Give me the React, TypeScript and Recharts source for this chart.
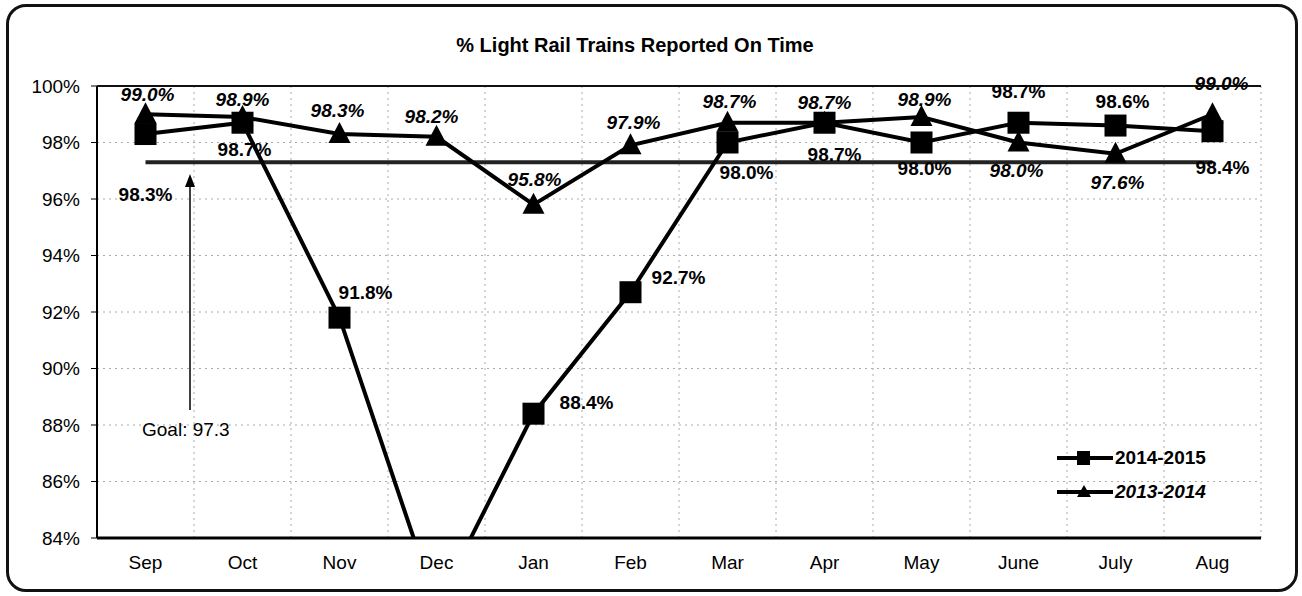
import React from 'react';
import { LineChart, Line, XAxis, YAxis, CartesianGrid, ReferenceLine, LabelList, Legend } from 'recharts';

const months = ['Sep', 'Oct', 'Nov', 'Dec', 'Jan', 'Feb', 'Mar', 'Apr', 'May', 'June', 'July', 'Aug'];
const fy1415 = [98.3, 98.7, 91.8, 81.6, 88.4, 92.7, 98.0, 98.7, 98.0, 98.7, 98.6, 98.4];
const fy1314 = [99.0, 98.9, 98.3, 98.2, 95.8, 97.9, 98.7, 98.7, 98.9, 98.0, 97.6, 99.0];
const goalValue = 97.3;
const yTicks = [84, 86, 88, 90, 92, 94, 96, 98, 100];

const data = months.map((m, i) => ({ month: m, fy1415: fy1415[i], fy1314: fy1314[i], goal: goalValue }));

// where each data label sits relative to its point (dx, dy); null = no label
const labelOffset1415: ([number, number] | null)[] = [
  [0, 60], [2, 27], [26, -25], null, [53, -11], [48, -15],
  [19, 30], [10, 32], [3, 26], [0, -31], [7, -24], [10, 36],
];
const labelOffset1314: ([number, number] | null)[] = [
  [2, -20], [0, -18], [-2, -24], [-5, -20], [1, -25], [3, -23],
  [2, -21], [0, -20], [3, -18], [-2, 28], [2, 29], [9, -31],
];

const FONT = '"Liberation Sans", Arial, sans-serif';

const SquareDot = (props: any) => {
  const { cx, cy, index, value } = props;
  if (cx == null || cy == null || value < 84) return <g key={`sq-${index}`} />;
  return <rect key={`sq-${index}`} x={cx - 11} y={cy - 11} width={22} height={22} fill="#000" />;
};

const TriangleDot = (props: any) => {
  const { cx, cy, index } = props;
  if (cx == null || cy == null) return <g key={`tr-${index}`} />;
  return (
    <polygon
      key={`tr-${index}`}
      points={`${cx},${cy - 12} ${cx - 11},${cy + 9} ${cx + 11},${cy + 9}`}
      fill="#000"
    />
  );
};

const makeLabel = (offsets: ([number, number] | null)[], italic: boolean) => (props: any) => {
  const { x, y, value, index } = props;
  const off = offsets[index];
  if (!off || x == null || y == null) return null;
  return (
    <text
      key={`lb-${italic ? 'a' : 'b'}-${index}`}
      x={x + off[0]}
      y={y + off[1]}
      textAnchor="middle"
      dominantBaseline="central"
      fontFamily={FONT}
      fontSize={19}
      fontWeight="bold"
      fontStyle={italic ? 'italic' : 'normal'}
      fill="#000"
    >
      {`${Number(value).toFixed(1)}%`}
    </text>
  );
};

const renderLegend = () => (
  <div style={{ fontFamily: FONT, fontSize: 19, fontWeight: 'bold', color: '#000' }}>
    <div style={{ display: 'flex', alignItems: 'center', height: 34 }}>
      <svg width={58} height={24}>
        <line x1={0} y1={12} x2={56} y2={12} stroke="#000" strokeWidth={4} />
        <rect x={20} y={5} width={13} height={14} fill="#000" />
      </svg>
      <span>2014-2015</span>
    </div>
    <div style={{ display: 'flex', alignItems: 'center', height: 34 }}>
      <svg width={58} height={24}>
        <line x1={0} y1={12} x2={56} y2={12} stroke="#000" strokeWidth={4} />
        <polygon points="27,5 20,17 34,17" fill="#000" />
      </svg>
      <span style={{ fontStyle: 'italic' }}>2013-2014</span>
    </div>
  </div>
);

// faint dotted verticals on the category boundaries
const boundaryLines = ({ offset }: any) => {
  const left = offset.left;
  const w = offset.width;
  return Array.from({ length: 12 }, (_, i) => left + ((i + 1) * w) / 12);
};

export default function App() {
  return (
    <div style={{ position: 'absolute', left: 0, top: 0, width: 1302, height: 596, background: '#fff' }}>
      <div
        style={{
          position: 'absolute',
          left: 6,
          top: 4,
          width: 1286,
          height: 582,
          border: '3px solid #111',
          borderRadius: 20,
        }}
      />
      <LineChart
        width={1302}
        height={596}
        data={data}
        margin={{ top: 86, right: 41, bottom: 28, left: 0 }}
        style={{ position: 'absolute', left: 0, top: 0 }}
      >
        <CartesianGrid
          stroke="#aaa"
          strokeDasharray="2 4"
          verticalCoordinatesGenerator={boundaryLines}
        />
        <XAxis
          dataKey="month"
          padding={{ left: 48.5, right: 48.5 }}
          axisLine={{ stroke: '#000', strokeWidth: 3 }}
          tickLine={false}
          tickSize={6}
          tickMargin={12}
          tick={{ fill: '#000', fontSize: 19, fontFamily: FONT }}
          interval={0}
        />
        <YAxis
          domain={[84, 100]}
          ticks={yTicks}
          allowDataOverflow
          width={97}
          tickFormatter={(v: number) => `${v}%`}
          axisLine={{ stroke: '#000', strokeWidth: 2 }}
          tickLine={{ stroke: '#000' }}
          tickSize={6}
          tickMargin={11}
          tick={{ fill: '#000', fontSize: 19, fontFamily: FONT }}
        />
        <ReferenceLine y={100} stroke="#111" strokeWidth={2} />
        <Legend
          layout="vertical"
          align="center"
          verticalAlign="middle"
          content={renderLegend}
          wrapperStyle={{ left: 1057, top: 441, width: 200 }}
        />
        <Line
          dataKey="goal"
          stroke="#222"
          strokeWidth={4}
          dot={false}
          activeDot={false}
          legendType="none"
          isAnimationActive={false}
        />
        <Line
          dataKey="fy1314"
          name="2013-2014"
          stroke="#000"
          strokeWidth={4}
          dot={TriangleDot}
          activeDot={false}
          isAnimationActive={false}
        >
          <LabelList dataKey="fy1314" content={makeLabel(labelOffset1314, true)} />
        </Line>
        <Line
          dataKey="fy1415"
          name="2014-2015"
          stroke="#000"
          strokeWidth={4}
          dot={SquareDot}
          activeDot={false}
          isAnimationActive={false}
        >
          <LabelList dataKey="fy1415" content={makeLabel(labelOffset1415, false)} />
        </Line>
      </LineChart>
      <svg
        width={1302}
        height={596}
        style={{ position: 'absolute', left: 0, top: 0, pointerEvents: 'none' }}
      >
        <text x={635} y={45} textAnchor="middle" dominantBaseline="central" fontFamily={FONT} fontSize={20} fontWeight="bold" fill="#000">
          % Light Rail Trains Reported On Time
        </text>
        <line x1={190} y1={410} x2={190} y2={184} stroke="#000" strokeWidth={1.5} />
        <polygon points="190,174 185,187 195,187" fill="#000" />
        <text x={142} y={429} dominantBaseline="central" fontFamily={FONT} fontSize={19} fill="#000">
          Goal: 97.3
        </text>
      </svg>
    </div>
  );
}
